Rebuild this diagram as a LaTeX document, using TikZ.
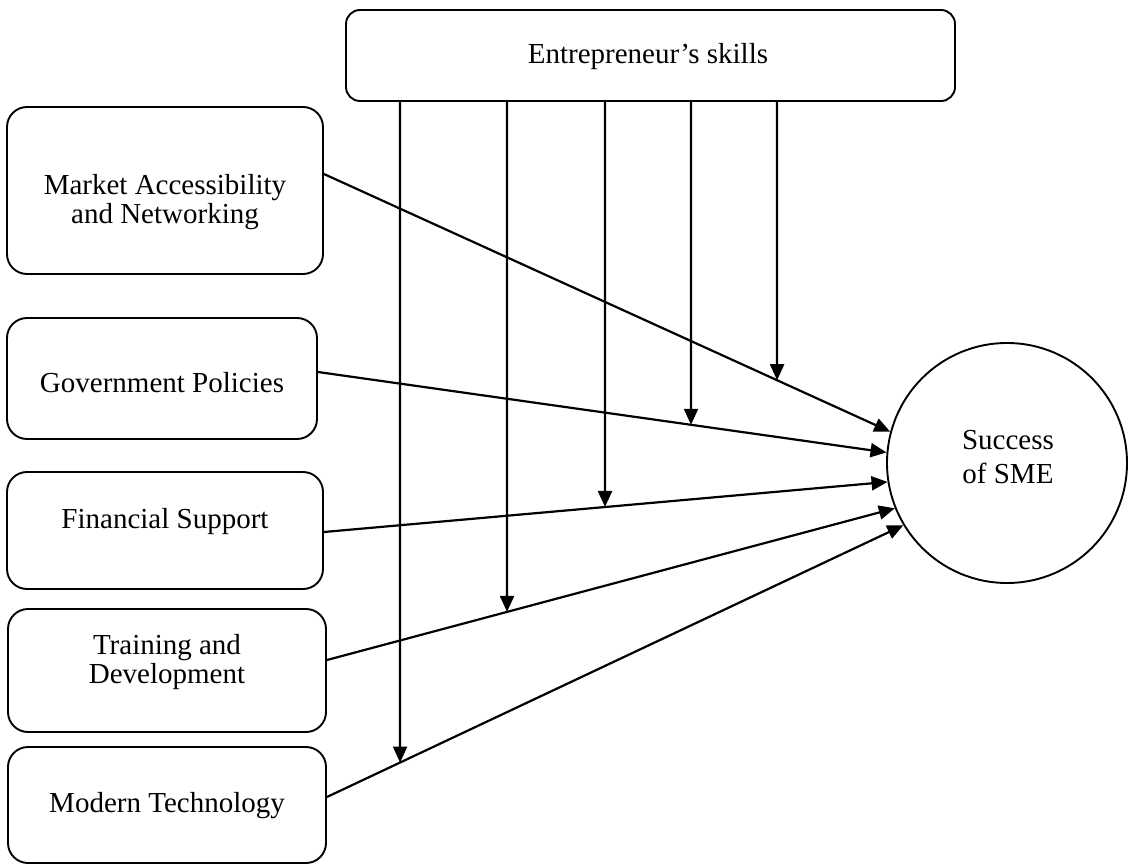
\documentclass[tikz,border=0pt]{standalone}
\usepackage{fontspec}
\setmainfont{Liberation Serif}
\usetikzlibrary{arrows.meta,calc}
\begin{document}
\begin{tikzpicture}[x=1pt,y=-1pt,
  box/.style={draw, line width=1.9pt, rounded corners=20pt, inner sep=0pt},
  lbl/.style={font=\fontsize{29}{28.5}\selectfont, align=center, inner sep=0pt},
  conn/.style={line width=2.2pt, -{Triangle[length=16pt,width=14pt]}}
]
\useasboundingbox (0,0) rectangle (1132,866);

% boxes
\node[box, rounded corners=14pt, minimum width=609pt, minimum height=91pt] (es) at (650.5,55.5) {};
\node[box, minimum width=316pt, minimum height=167pt] (mk) at (165,190.5) {};
\node[box, minimum width=310pt, minimum height=121pt] (gp) at (162,378.5) {};
\node[box, minimum width=316pt, minimum height=117pt] (fs) at (165,530.5) {};
\node[box, minimum width=318pt, minimum height=123pt] (td) at (167,670.5) {};
\node[box, minimum width=318pt, minimum height=116pt] (mt) at (167,805) {};
\node[draw, circle, line width=1.9pt, inner sep=0pt, minimum size=240pt] (c) at (1007,463) {};

% texts
\node[lbl] (est) at (648,57) {Entrepreneur’s skills};
\node[lbl] (mkt) at (165,202) {Market Accessibility\\and Networking};
\node[lbl] (gpt) at (162,383) {Government Policies};
\node[lbl] (fst) at (165,522) {Financial Support};
\node[lbl] (tdt) at (167,662) {Training and\\Development};
\node[lbl] (mtt) at (167,806) {Modern Technology};
\node[lbl, font=\fontsize{29}{34}\selectfont] (ct) at (1008,457) {Success\\of SME};

% connector end points
\coordinate (mka) at ([yshift=16.5pt]mk.east);
\coordinate (mkb) at (c.165.5);
\coordinate (gpa) at ([yshift=6.5pt]gp.east);
\coordinate (gpb) at (c.175.3);
\coordinate (fsa) at ([yshift=-1.5pt]fs.east);
\coordinate (fsb) at (c.189.4);
\coordinate (tda) at ([yshift=10.5pt]td.east);
\coordinate (tdb) at (c.202.8);
\coordinate (mta) at ([yshift=8pt]mt.east);
\coordinate (mtb) at (c.211.4);

\draw[conn] (mka) -- (mkb);
\draw[conn] (gpa) -- (gpb);
\draw[conn] (fsa) -- (fsb);
\draw[conn] (tda) -- (tdb);
\draw[conn] (mta) -- (mtb);

% moderating arrows from Entrepreneur's skills
\coordinate (v1) at ([xshift=55pt]es.south west);
\coordinate (v2) at ([xshift=162pt]es.south west);
\coordinate (v3) at ([xshift=260pt]es.south west);
\coordinate (v4) at ([xshift=346pt]es.south west);
\coordinate (v5) at ([xshift=432pt]es.south west);
\coordinate (w1) at (v1 |- mt.south);
\coordinate (w2) at (v2 |- mt.south);
\coordinate (w3) at (v3 |- mt.south);
\coordinate (w4) at (v4 |- mt.south);
\coordinate (w5) at (v5 |- mt.south);

\draw[conn] (v1) -- (intersection of v1--w1 and mta--mtb);
\draw[conn] (v2) -- (intersection of v2--w2 and tda--tdb);
\draw[conn] (v3) -- (intersection of v3--w3 and fsa--fsb);
\draw[conn] (v4) -- (intersection of v4--w4 and gpa--gpb);
\draw[conn] (v5) -- (intersection of v5--w5 and mka--mkb);
\end{tikzpicture}
\end{document}
